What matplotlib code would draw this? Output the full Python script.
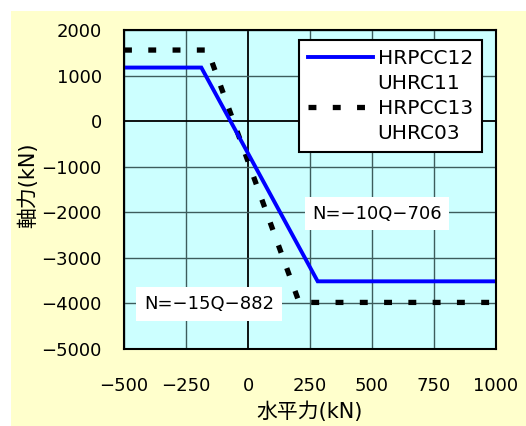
import matplotlib
matplotlib.use("Agg")
import matplotlib.pyplot as plt
from matplotlib.patches import Rectangle
from matplotlib.lines import Line2D

plt.rcParams['font.family'] = ['DejaVu Sans', 'Noto Sans CJK JP']

# Axial force vs. horizontal force envelopes
hrpcc12_q = [-500, -188.2, 280.9, 1000]
hrpcc12_n = [1176, 1176, -3515, -3515]
hrpcc13_q = [-500, -162.8, 206.4, 1000]
hrpcc13_n = [1560, 1560, -3978, -3978]

legend_labels = ["HRPCC12", "UHRC11", "HRPCC13", "UHRC03"]
x_ticks = [-500, -250, 0, 250, 500, 750, 1000]
y_ticks = [2000, 1000, 0, -1000, -2000, -3000, -4000, -5000]

eq1_text, eq1_pos = "N=\u221210Q\u2212706", (520, -2030)
eq2_text, eq2_pos = "N=\u221215Q\u2212882", (-157, -4013)

W, H = 526, 426
fig = plt.figure(figsize=(W / 100, H / 100), dpi=100)
fig.patch.set_facecolor("white")
fig.add_artist(Rectangle((11 / W, 0), 1 - 11 / W, 1 - 11 / H,
                         transform=fig.transFigure, facecolor="#ffffcc",
                         edgecolor="none", zorder=-10))

ax = fig.add_axes([124 / W, 77 / H, 372 / W, 319 / H])
ax.set_facecolor("#ccffff")
ax.set_xlim(-500, 1000)
ax.set_ylim(-5000, 2000)
ax.set_xticks(x_ticks)
ax.set_yticks(y_ticks)
ax.tick_params(length=0, labelsize=13, colors="black")
ax.tick_params(axis="y", pad=16)
ax.tick_params(axis="x", pad=20)

for xv in x_ticks:
    ax.axvline(xv, color="black" if xv == 0 else "#3d5c5c", lw=1.3 if xv == 0 else 1.0, zorder=1)
for yv in y_ticks:
    ax.axhline(yv, color="black" if yv == 0 else "#3d5c5c", lw=1.3 if yv == 0 else 1.0, zorder=1)

for s in ax.spines.values():
    s.set_linewidth(1.5)
    s.set_color("black")
    s.set_zorder(5)

dash_style = (0, (1.5, 3.1))
dashed, = ax.plot(hrpcc13_q, hrpcc13_n, color="black", lw=3.8,
                  linestyle=dash_style, zorder=2)
solid, = ax.plot(hrpcc12_q, hrpcc12_n, color="#0000ff", lw=2.8, zorder=3,
                 solid_joinstyle="miter")

for txt, (tx, ty) in [(eq1_text, eq1_pos), (eq2_text, eq2_pos)]:
    ax.text(tx, ty, txt, fontsize=13, ha="center", va="center", zorder=6,
            bbox=dict(facecolor="white", edgecolor="none", pad=5.5))

ax.set_xlabel("水平力(kN)", fontsize=15)
ax.set_ylabel("軸力(kN)", fontsize=15)
ax.xaxis.set_label_coords(0.5, -0.198)
ax.xaxis.label.set_va("center")
ax.yaxis.set_label_coords(-0.258, 0.514)
ax.yaxis.label.set_va("center")

blank = Line2D([], [], color="none")
leg_dash = Line2D([], [], color="black", lw=3.8, linestyle=dash_style)
leg = ax.legend([solid, blank, leg_dash, blank], legend_labels,
                loc="upper left", bbox_to_anchor=(299 / W, 1 - 40 / H),
                bbox_transform=fig.transFigure, borderaxespad=0,
                fontsize=14.5, frameon=True, fancybox=False, framealpha=1,
                edgecolor="black", handlelength=3.2, handletextpad=0.25,
                labelspacing=0.3, borderpad=0.45)
leg.get_frame().set_linewidth(1.5)
leg.set_zorder(7)

fig.savefig("out.png", dpi=100)
